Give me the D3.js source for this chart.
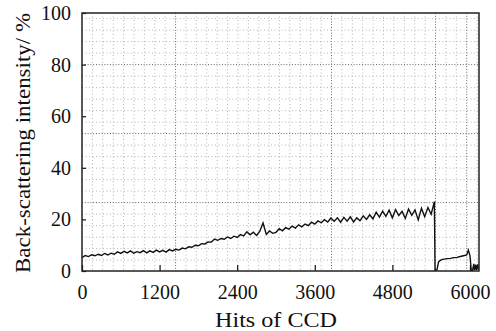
<!DOCTYPE html>
<html><head><meta charset="utf-8">
<script src="https://cdn.jsdelivr.net/npm/d3@7"></script>
<style>body{margin:0;background:#fff}svg{display:block}text{font-family:"Liberation Serif","Times New Roman",serif;fill:#111}</style>
</head><body><svg id="c" width="496" height="331"></svg>
<script>
// ---- data ----
const xTicks = [0, 1200, 2400, 3600, 4800, 6000];
const yTicks = [0, 20, 40, 60, 80, 100];
// main run: one reading every 50 hits from 0 to 5450
const mainStart = 0, mainStep = 50;
const mainValues = [
 5.2, 6.0, 5.6, 6.3, 5.9, 6.5, 6.0, 6.8, 6.2, 6.9,
 6.5, 7.4, 6.8, 7.6, 7.0, 7.8, 6.9, 7.5, 7.1, 7.9,
 7.0, 7.8, 7.2, 8.1, 7.4, 8.0, 7.3, 8.3, 7.8, 8.4,
 8.1, 8.9, 8.6, 9.4, 9.2, 10.0, 9.8, 10.6, 10.5, 11.3,
 11.2, 12.4, 11.9, 12.6, 12.3, 13.2, 12.6, 13.5, 13.0, 14.1,
 13.6, 15.2, 14.0, 15.0, 13.8, 15.4, 18.6, 14.2, 15.5, 14.6,
 15.0, 16.4, 15.6, 16.8, 16.2, 17.4, 16.6, 17.9, 17.1, 18.2,
 17.6, 18.9, 18.2, 19.4, 18.7, 19.9, 19.0, 20.5, 19.3, 20.6,
 18.9, 20.8, 19.3, 21.0, 19.0, 20.6, 19.5, 21.4, 20.0, 21.8,
 20.2, 22.8, 20.9, 23.2, 21.2, 23.6, 20.6, 23.8, 21.5, 23.1,
 20.4, 24.0, 21.6, 23.7, 19.8, 24.3, 21.0, 24.6, 22.0, 26.9
];
// tail after the drop
const tailHits   = [5460, 5490, 5516, 5560, 5600, 5650, 5700, 5750, 5800, 5850, 5900, 5950, 5975, 6000, 6020, 6040, 6060, 6070, 6090, 6100, 6120, 6130];
const tailValues = [0.3, 0.5, 3.6, 4.4, 4.6, 4.8, 4.9, 5.2, 5.3, 5.6, 5.9, 6.2, 8.1, 6.0, 0.3, 0.2, 2.8, 0.3, 2.5, 0.4, 2.6, 0.5];

// ---- layout ----
const L = 82, R = 479, T = 13, B = 271;
const svg = d3.select("#c");
const x = d3.scaleLinear().domain([0, 6140]).range([L, R]);
const y = d3.scaleLinear().domain([0, 100]).range([B, T]);

const pts = mainValues.map((v, i) => [mainStart + i * mainStep, v])
  .concat(tailHits.map((h, i) => [h, tailValues[i]]));

// background paper grid
const gx = 160.8, gy = 4.457;
const vDark = [9, 24, 34, 37];
const grid = svg.append("g");
d3.range(1, 39).forEach(k => {
  const xv = x(k * gx); if (xv >= R) return;
  const dark = vDark.includes(k);
  grid.append("line").attr("x1", xv).attr("x2", xv).attr("y1", T).attr("y2", B)
    .attr("stroke", dark ? "#666" : "#b4b4b4").attr("stroke-width", 1)
    .attr("stroke-dasharray", dark ? "1,1.8" : "1,2.5");
});
d3.range(-17, 5).forEach(k => {
  const v = 80 + k * gy; if (v <= 0 || v >= 100) return;
  const dark = (k % 6 === 0);
  grid.append("line").attr("x1", L).attr("x2", R).attr("y1", y(v)).attr("y2", y(v))
    .attr("stroke", dark ? "#666" : "#b4b4b4").attr("stroke-width", 1)
    .attr("stroke-dasharray", dark ? "1,1.8" : "1,2.5");
});

// data line
svg.append("path").datum(pts)
  .attr("d", d3.line().x(d => x(d[0])).y(d => y(d[1])))
  .attr("fill", "none").attr("stroke", "#111").attr("stroke-width", 1.4)
  .attr("stroke-linejoin", "miter");

// axes
const xAxis = d3.axisBottom(x).tickValues(xTicks).tickSize(-6).tickPadding(14).tickFormat(d3.format("d"));
const gX = svg.append("g").attr("transform", `translate(0,${B})`).call(xAxis);
const yAxis = d3.axisLeft(y).tickValues(yTicks).tickSize(-4).tickPadding(11);
const gY = svg.append("g").attr("transform", `translate(${L},0)`).call(yAxis);
[gX, gY].forEach(g => {
  g.select(".domain").remove();
  g.selectAll(".tick line").attr("stroke", "#111").attr("stroke-width", 1.2);
  g.selectAll(".tick text").attr("font-size", 20).attr("font-family", '"Liberation Serif",serif').attr("fill", "#111");
});
gX.selectAll(".tick text").attr("dy", "0.71em");

// frame
svg.append("rect").attr("x", L).attr("y", T).attr("width", R - L).attr("height", B - T)
  .attr("fill", "none").attr("stroke", "#222").attr("stroke-width", 1.5);

// titles
svg.append("text").attr("x", 276).attr("y", 327).attr("text-anchor", "middle")
  .attr("font-size", 21).attr("textLength", 122).attr("lengthAdjust", "spacingAndGlyphs")
  .text("Hits of CCD");
svg.append("text").attr("transform", "translate(30,143) rotate(-90)").attr("text-anchor", "middle")
  .attr("font-size", 21).attr("textLength", 260).attr("lengthAdjust", "spacingAndGlyphs")
  .text("Back-scattering intensity/ %");
</script></body></html>
